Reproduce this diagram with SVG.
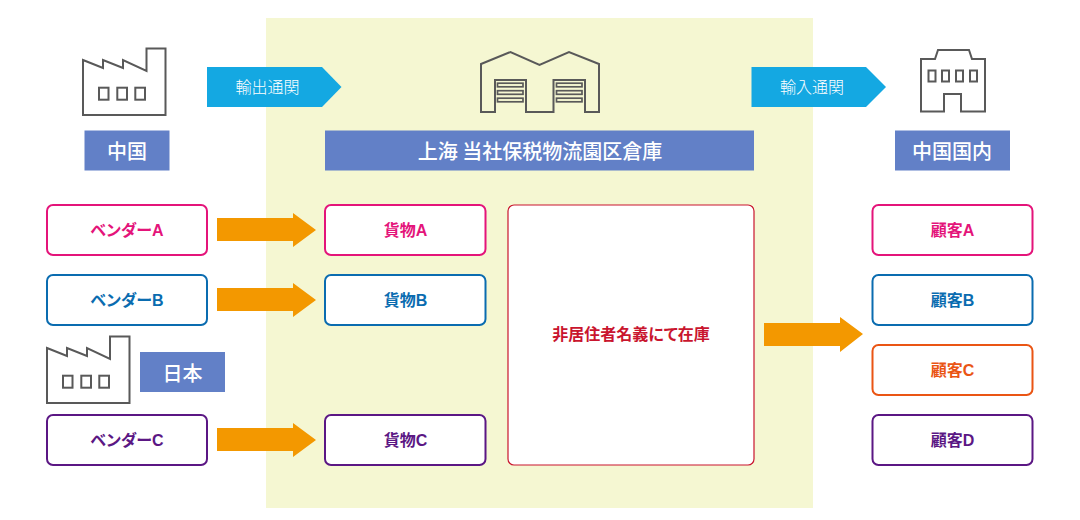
<svg xmlns="http://www.w3.org/2000/svg" width="1080" height="520" viewBox="0 0 1080 520">
<defs>
<style>
text{font-family:"Noto Sans CJK JP","Noto Sans",sans-serif;text-anchor:middle}
.box{fill:#fff;stroke-width:2}
.lbl{font-family:"Liberation Sans","Noto Sans CJK JP",sans-serif;font-size:16px;font-weight:700;font-feature-settings:"palt"}
.hdr{fill:#6280c7}
.hdrt{fill:#fff;font-size:20px;font-weight:500}
.cust{fill:#fff;font-size:16px;font-weight:300}
.icon{fill:none;stroke:#595959;stroke-width:2}
.iconw{fill:#fff;stroke:#595959;stroke-width:2}
.win{fill:none;stroke:#595959;stroke-width:1.700}
.blue{fill:#14a8e2}
.org{fill:#f39800}
</style>
</defs>
<rect id="zone" x="266" y="18" width="547" height="490" fill="#f5f7d2"/>
<g id="connectors">
<path class="org" d="M217 218H293V213L316 230L293 247V241H217Z"/>
<path class="org" d="M217 288H293V283L316 300L293 317V311H217Z"/>
<path class="org" d="M217 428H293V423L316 440L293 457V451H217Z"/>
<path class="org" d="M764 323H840V317L863 334L840 352V346H764Z"/>
</g>
<g id="customs-out"><path class="blue" d="M207 67H322L341.500 87L322 107H207Z"/><text class="cust" x="267.500" y="92.500">輸出通関</text></g>
<g id="customs-in"><path class="blue" d="M751.500 67H866L886 87L866 107H751.500Z"/><text class="cust" x="812" y="92.500">輸入通関</text></g>
<g id="factory-china">
<path class="iconw" d="M83 60L103 68V60L123 68V60L146.500 71V48.500H165.500V115H83Z"/>
<rect class="icon" x="99" y="87.700" width="9.500" height="12"/><rect class="icon" x="117.300" y="87.700" width="9.700" height="12"/><rect class="icon" x="135.300" y="87.700" width="9.700" height="12"/>
</g>
<g id="warehouse">
<path class="icon" d="M481 112V64L510.500 52L539.500 65L569 52L599 64V112H585V80H553.500V112H526V80H495V112Z"/>
<rect class="win" x="497.500" y="83.200" width="25.500" height="3.600"/><rect class="win" x="497.500" y="90.700" width="25.500" height="3.600"/><rect class="win" x="497.500" y="98.200" width="25.500" height="3.600"/><rect class="win" x="556.500" y="83.200" width="25.500" height="3.600"/><rect class="win" x="556.500" y="90.700" width="25.500" height="3.600"/><rect class="win" x="556.500" y="98.200" width="25.500" height="3.600"/>
</g>
<g id="building">
<path class="icon" d="M921 59H935L938 50H969L972 59H985V111.500H961V94H944V111.500H921Z"/>
<rect class="icon" x="928.500" y="70.500" width="7" height="11"/><rect class="icon" x="942" y="70.500" width="7" height="11"/><rect class="icon" x="956" y="70.500" width="7" height="11"/><rect class="icon" x="970" y="70.500" width="7" height="11"/>
</g>
<g id="hdr-china"><rect class="hdr" x="84.500" y="130.500" width="85" height="40"/><text class="hdrt" x="127" y="159">中国</text></g>
<g id="hdr-bonded"><rect class="hdr" x="325" y="130.500" width="429" height="40"/><text class="hdrt" x="540" y="159">上海 当社保税物流園区倉庫</text></g>
<g id="hdr-domestic"><rect class="hdr" x="895" y="130.500" width="115" height="40"/><text class="hdrt" x="952" y="159">中国国内</text></g>
<g id="vendor-a"><rect class="box" x="47" y="205" width="160" height="50" rx="6" stroke="#e4147a"/><text class="lbl" x="127" y="236" fill="#e4147a">ベンダーA</text></g>
<g id="vendor-b"><rect class="box" x="47" y="275" width="160" height="50" rx="6" stroke="#0a6cb0"/><text class="lbl" x="127" y="306" fill="#0a6cb0">ベンダーB</text></g>
<g id="japan-factory">
<path class="iconw" d="M47 348L67 356V348L87 356V348L110 359V336.500H129.500V403H47Z"/>
<rect class="icon" x="63" y="375.700" width="9.500" height="12"/><rect class="icon" x="81.300" y="375.700" width="9.700" height="12"/><rect class="icon" x="99.300" y="375.700" width="9.700" height="12"/>
</g>
<g id="hdr-japan"><rect class="hdr" x="140" y="352" width="85" height="40"/><text class="hdrt" x="182.500" y="380.500">日本</text></g>
<g id="vendor-c"><rect class="box" x="47" y="415" width="160" height="50" rx="6" stroke="#5b1784"/><text class="lbl" x="127" y="446" fill="#5b1784">ベンダーC</text></g>
<g id="cargo-a"><rect class="box" x="325" y="205" width="160.500" height="50" rx="6" stroke="#e4147a"/><text class="lbl" x="405.500" y="236" fill="#e4147a">貨物A</text></g>
<g id="cargo-b"><rect class="box" x="325" y="275" width="160.500" height="50" rx="6" stroke="#0a6cb0"/><text class="lbl" x="405.500" y="306" fill="#0a6cb0">貨物B</text></g>
<g id="cargo-c"><rect class="box" x="325" y="415" width="160.500" height="50" rx="6" stroke="#5b1784"/><text class="lbl" x="405.500" y="446" fill="#5b1784">貨物C</text></g>
<g id="stock"><rect x="508" y="205" width="246" height="260" rx="6" fill="#fff" stroke="#c9152e" stroke-width="1.200"/><text class="lbl" x="631" y="339.500" fill="#c9152e">非居住者名義にて在庫</text></g>
<g id="cust-a"><rect class="box" x="872.500" y="205" width="160" height="50" rx="6" stroke="#e4147a"/><text class="lbl" x="952.500" y="236" fill="#e4147a">顧客A</text></g>
<g id="cust-b"><rect class="box" x="872.500" y="275" width="160" height="50" rx="6" stroke="#0a6cb0"/><text class="lbl" x="952.500" y="306" fill="#0a6cb0">顧客B</text></g>
<g id="cust-c"><rect class="box" x="872.500" y="345" width="160" height="50" rx="6" stroke="#ea5514"/><text class="lbl" x="952.500" y="376" fill="#ea5514">顧客C</text></g>
<g id="cust-d"><rect class="box" x="872.500" y="415" width="160" height="50" rx="6" stroke="#5b1784"/><text class="lbl" x="952.500" y="446" fill="#5b1784">顧客D</text></g>
</svg>
